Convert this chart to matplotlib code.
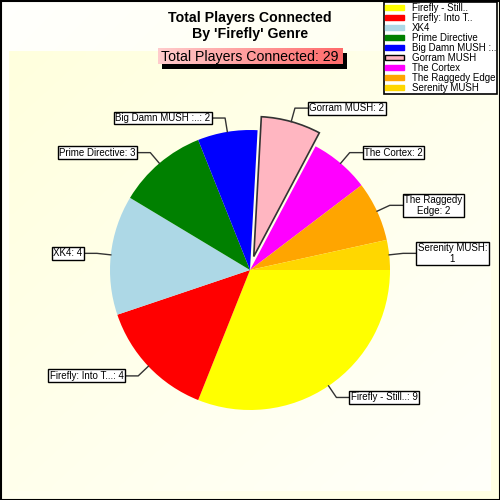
import numpy as np
import matplotlib.pyplot as plt
from matplotlib.patches import Rectangle

plt.rcParams['font.family'] = ['Liberation Sans', 'DejaVu Sans']

# data
legend_names = ['Firefly - Still..', 'Firefly: Into T..', 'XK4', 'Prime Directive',
                'Big Damn MUSH :..', 'Gorram MUSH', 'The Cortex', 'The Raggedy Edge',
                'Serenity MUSH']
slice_names = ['Firefly - Still..', 'Firefly: Into T...', 'XK4', 'Prime Directive',
               'Big Damn MUSH :..', 'Gorram MUSH', 'The Cortex', 'The Raggedy\nEdge',
               'Serenity MUSH:\n']
players = [9, 4, 4, 3, 2, 2, 2, 2, 1]
colors = ['#FFFF00', '#FF0000', '#ADD8E6', '#008000', '#0000FF', '#FFB6C1',
          '#FF00FF', '#FFA500', '#FFD700']
explode = [0, 0, 0, 0, 0, 0.1, 0, 0, 0]

fig = plt.figure(figsize=(5, 5), dpi=100)
fig.patch.set_facecolor('#FFFFFB')

# background axes in pixel units
bg = fig.add_axes([0, 0, 1, 1])
gx, gy = np.meshgrid(np.linspace(0, 1, 50), np.linspace(0, 1, 50))
t = (gx + gy) / 2

outer = np.ones((50, 50, 3))
outer[..., 2] = 0.99 - 0.10 * t
bg.imshow(outer, extent=(0, 500, 500, 0), interpolation='bilinear', zorder=0)

inner = np.ones((50, 50, 3))
inner[..., 2] = 0.87 + 0.11 * t
bg.imshow(inner, extent=(9, 491, 491, 51), interpolation='bilinear', zorder=0.5)

# subtitle box with shadow
bg.add_patch(Rectangle((162, 53), 185, 16, facecolor='black', edgecolor='none', zorder=1))
sub = np.zeros((10, 60, 3))
sx = np.linspace(0, 1, 60)[None, :]
sub[..., 0] = 1
sub[..., 1] = 0.80 - 0.38 * sx
sub[..., 2] = 0.80 - 0.38 * sx
bg.imshow(sub, extent=(158, 343, 64, 48), interpolation='bilinear', zorder=2)
total = sum(players)
bg.text(250, 56.5, f'Total Players Connected: {total}', fontsize=10.2,
        ha='center', va='center', zorder=3)

bg.text(250, 26, "Total Players Connected\nBy 'Firefly' Genre", fontsize=10.2,
        fontweight='bold', ha='center', va='center', linespacing=1.25)

# outer frame
bg.add_patch(Rectangle((0.5, 0.5), 499, 499, facecolor='none', edgecolor='black',
                       lw=1.5, zorder=10, clip_on=False))

bg.set_aspect('auto')
bg.set_xlim(0, 500)
bg.set_ylim(500, 0)
bg.axis('off')

# pie axes, units in pixels, center at (0, 0)
ax = fig.add_axes([0, 0, 1, 1])
ax.patch.set_alpha(0)
R = 140
wedges, _ = ax.pie(players, colors=colors, explode=[e * R for e in explode],
                   startangle=0, counterclock=False, radius=R, center=(0, 0))
for w, e in zip(wedges, explode):
    if e > 0:
        w.set_edgecolor('#333333')
        w.set_linewidth(1.2)

for w, name, val, e in zip(wedges, slice_names, players, explode):
    ang = np.deg2rad((w.theta1 + w.theta2) / 2)
    c, s = np.cos(ang), np.sin(ang)
    off = e * R
    x1, y1 = (R + off) * c, (R + off) * s
    x2, y2 = (1.1 * R + off) * c, (1.1 * R + off) * s
    sgn = 1 if c >= 0 else -1
    x3 = x2 + sgn * 13
    ax.plot([x1, x2, x3], [y1, y2, y2], color='#333333', lw=1, zorder=3)
    label = f'{name}{val}' if name.endswith('\n') else f'{name}: {val}'
    ax.text(x3 + sgn * 1.5, y2, label, fontsize=7, ha='left' if sgn > 0 else 'right',
            va='center', multialignment='center', linespacing=1.05, zorder=4,
            bbox=dict(boxstyle='square,pad=0.15', facecolor='white',
                      edgecolor='black', lw=1))

ax.set_xlim(-250, 250)
ax.set_ylim(-230, 270)
ax.set_aspect('auto')
ax.axis('off')

handles = [Rectangle((0, 0), 1, 1, facecolor=col,
                     edgecolor='black' if e > 0 else col, lw=1)
           for col, e in zip(colors, explode)]
leg = fig.legend(handles, legend_names, loc='upper right',
                 bbox_to_anchor=(497 / 500, 1 - 2 / 500), fontsize=7,
                 frameon=True, fancybox=False, borderaxespad=0, borderpad=0.1,
                 labelspacing=0.0, handlelength=1.9, handleheight=0.5,
                 handletextpad=0.8)
leg.get_frame().set_edgecolor('black')
leg.get_frame().set_linewidth(1.2)
leg.get_frame().set_facecolor('white')
leg.get_frame().set_alpha(1)

fig.savefig('out.png', dpi=100, facecolor=fig.get_facecolor())
